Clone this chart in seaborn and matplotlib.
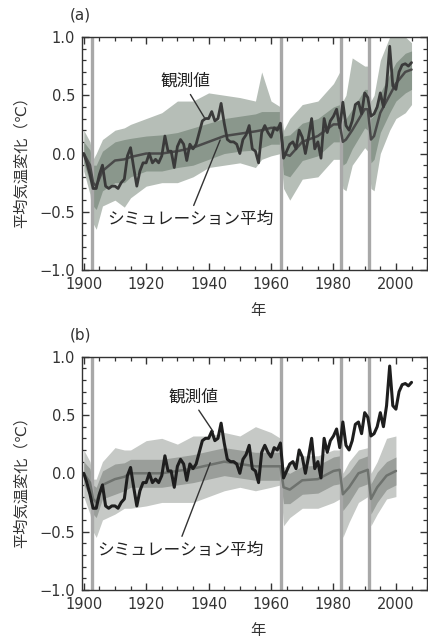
import numpy as np
import pandas as pd
import matplotlib
matplotlib.use("Agg")
import matplotlib.pyplot as plt
from matplotlib.ticker import MultipleLocator
import seaborn as sns

obs_years = list(range(1900, 2006))
obs_values = [
    0.00, -0.08, -0.18, -0.30, -0.30, -0.18, -0.10, -0.28, -0.30, -0.28,
    -0.28, -0.30, -0.25, -0.22, -0.02, 0.05, -0.12, -0.28, -0.15, -0.08,
    -0.08, 0.00, -0.08, -0.05, -0.08, -0.02, 0.15, 0.02, 0.02, -0.12,
    0.06, 0.12, 0.08, -0.06, 0.08, 0.04, 0.08, 0.18, 0.28, 0.30,
    0.30, 0.36, 0.28, 0.30, 0.43, 0.26, 0.12, 0.10, 0.10, 0.08,
    0.00, 0.12, 0.16, 0.24, 0.04, 0.02, -0.08, 0.18, 0.24, 0.18,
    0.14, 0.22, 0.20, 0.26, -0.04, 0.02, 0.08, 0.10, 0.04, 0.20,
    0.14, 0.00, 0.14, 0.30, 0.04, 0.10, -0.04, 0.30, 0.18, 0.28,
    0.32, 0.38, 0.22, 0.44, 0.24, 0.20, 0.28, 0.42, 0.44, 0.34,
    0.52, 0.48, 0.32, 0.34, 0.40, 0.52, 0.40, 0.58, 0.92, 0.58,
    0.55, 0.70, 0.76, 0.77, 0.75, 0.78,
]

# (a) natural + anthropogenic forcing runs: mean and spread
years_a = [1900, 1902, 1903, 1904, 1906, 1910, 1913, 1915, 1920, 1925, 1930, 1935,
           1940, 1945, 1950, 1955, 1957, 1960, 1963, 1964, 1966, 1970, 1975, 1980,
           1982, 1983, 1984, 1986, 1990, 1991, 1992, 1993, 1995, 1998, 2000, 2003, 2005]
mean_a = [0.0, -0.1, -0.25, -0.28, -0.15, -0.06, -0.05, -0.03, 0.0, 0.0, 0.02, 0.05,
          0.1, 0.15, 0.17, 0.19, 0.2, 0.22, 0.22, 0.0, -0.02, 0.1, 0.15, 0.25,
          0.25, 0.1, 0.12, 0.2, 0.38, 0.38, 0.12, 0.15, 0.35, 0.5, 0.6, 0.7, 0.72]
lo_a = [-0.15, -0.35, -0.6, -0.65, -0.45, -0.4, -0.46, -0.38, -0.28, -0.25, -0.25, -0.2,
        -0.12, -0.1, -0.08, -0.12, -0.05, -0.02, 0.0, -0.3, -0.4, -0.22, -0.2, -0.05,
        -0.05, -0.3, -0.32, -0.1, 0.05, 0.02, -0.3, -0.32, 0.0, 0.2, 0.3, 0.35, 0.42]
hi_a = [0.2, 0.1, -0.05, 0.0, 0.12, 0.2, 0.22, 0.25, 0.3, 0.35, 0.45, 0.45,
        0.52, 0.5, 0.48, 0.45, 0.7, 0.45, 0.4, 0.2, 0.3, 0.42, 0.45, 0.6,
        0.7, 0.45, 0.5, 0.82, 0.75, 0.75, 0.45, 0.5, 0.8, 1.0, 1.0, 1.0, 0.95]
core_lo_a = [-0.08, -0.25, -0.45, -0.48, -0.32, -0.25, -0.25, -0.2, -0.15, -0.15, -0.12, -0.1,
             -0.05, 0.0, 0.02, 0.03, 0.05, 0.08, 0.08, -0.18, -0.2, -0.06, -0.02, 0.1,
             0.1, -0.1, -0.08, 0.04, 0.22, 0.2, -0.08, -0.05, 0.18, 0.35, 0.45, 0.52, 0.55]
core_hi_a = [0.1, 0.03, -0.1, -0.1, 0.02, 0.1, 0.12, 0.13, 0.15, 0.16, 0.18, 0.22,
             0.26, 0.3, 0.32, 0.34, 0.36, 0.36, 0.36, 0.15, 0.16, 0.26, 0.3, 0.4,
             0.42, 0.28, 0.3, 0.38, 0.55, 0.55, 0.3, 0.33, 0.52, 0.68, 0.78, 0.86, 0.88]

# (b) natural forcing only runs
years_b = [1900, 1902, 1903, 1904, 1906, 1910, 1913, 1915, 1920, 1925, 1930, 1935,
           1940, 1945, 1950, 1955, 1960, 1963, 1964, 1966, 1970, 1975, 1980, 1982,
           1983, 1985, 1988, 1991, 1992, 1994, 1997, 2000]
mean_b = [0.0, -0.08, -0.22, -0.25, -0.1, -0.05, -0.03, 0.0, 0.0, 0.0, 0.02, 0.04,
          0.07, 0.1, 0.08, 0.06, 0.06, 0.06, -0.12, -0.14, -0.06, -0.05, 0.02, 0.03,
          -0.18, -0.12, 0.0, 0.03, -0.22, -0.12, -0.02, 0.02]
lo_b = [-0.2, -0.35, -0.5, -0.55, -0.4, -0.35, -0.3, -0.3, -0.28, -0.25, -0.25, -0.25,
        -0.2, -0.15, -0.12, -0.15, -0.12, -0.1, -0.45, -0.38, -0.3, -0.3, -0.25, -0.22,
        -0.55, -0.42, -0.25, -0.2, -0.45, -0.35, -0.22, -0.2]
hi_b = [0.2, 0.1, -0.05, -0.05, 0.1, 0.22, 0.2, 0.2, 0.28, 0.3, 0.25, 0.32,
        0.32, 0.35, 0.32, 0.4, 0.35, 0.3, 0.05, 0.08, 0.15, 0.15, 0.2, 0.2,
        0.0, 0.1, 0.2, 0.22, 0.0, 0.1, 0.3, 0.32]
core_lo_b = [-0.1, -0.2, -0.35, -0.38, -0.22, -0.18, -0.15, -0.12, -0.12, -0.12, -0.1, -0.08,
             -0.05, -0.02, -0.04, -0.06, -0.06, -0.06, -0.26, -0.26, -0.18, -0.17, -0.1, -0.09,
             -0.32, -0.25, -0.12, -0.09, -0.35, -0.25, -0.14, -0.1]
core_hi_b = [0.1, 0.04, -0.1, -0.12, 0.02, 0.08, 0.09, 0.12, 0.12, 0.12, 0.14, 0.16,
             0.19, 0.22, 0.2, 0.18, 0.18, 0.18, 0.02, 0.0, 0.06, 0.07, 0.14, 0.15,
             -0.04, 0.01, 0.12, 0.15, -0.09, 0.01, 0.1, 0.14]

# major volcanic eruptions
volcano_years = [1902.8, 1963.2, 1982.3, 1991.5]

x_ticks = [1900, 1920, 1940, 1960, 1980, 2000]
y_ticks = [-1.0, -0.5, 0.0, 0.5, 1.0]
y_tick_labels = ["\u22121.0", "\u22120.5", "0.0", "0.5", "1.0"]

sns.set_theme(style="ticks")
plt.rcParams["font.family"] = ["DejaVu Sans", "Noto Sans CJK JP"]

obs_df = pd.DataFrame({"year": obs_years, "temp": obs_values})

fig = plt.figure(figsize=(4.28, 6.37), dpi=100)
ax_a = fig.add_axes([0.192, 0.576, 0.806, 0.366])
ax_b = fig.add_axes([0.192, 0.074, 0.806, 0.366])

panels = [
    (ax_a, years_a, mean_a, lo_a, hi_a, core_lo_a, core_hi_a,
     "#b6beb7", "#8a978c", "#4a4a4a", "#3a3a3a", 2.0),
    (ax_b, years_b, mean_b, lo_b, hi_b, core_lo_b, core_hi_b,
     "#c6c9c6", "#9a9e9a", "#6e726e", "#1e1e1e", 2.2),
]

for ax, yrs, mean, lo, hi, clo, chi, c_out, c_core, c_mean, c_obs, obs_lw in panels:
    ax.fill_between(yrs, lo, hi, color=c_out, lw=0, zorder=1)
    ax.fill_between(yrs, clo, chi, color=c_core, lw=0, zorder=2)
    for v in volcano_years:
        ax.axvline(v, color="#a8a8a8", lw=2.4, zorder=3)
    sim_df = pd.DataFrame({"year": yrs, "temp": mean})
    sns.lineplot(data=sim_df, x="year", y="temp", ax=ax, color=c_mean, lw=1.8, zorder=4)
    sns.lineplot(data=obs_df, x="year", y="temp", ax=ax, color=c_obs, lw=obs_lw, zorder=5)

    ax.set_xlim(1899.5, 2010)
    ax.set_ylim(-1.0, 1.0)
    ax.set_xticks(x_ticks)
    ax.set_yticks(y_ticks)
    ax.set_yticklabels(y_tick_labels)
    ax.xaxis.set_minor_locator(MultipleLocator(5))
    ax.yaxis.set_minor_locator(MultipleLocator(0.1))
    ax.tick_params(which="major", direction="in", top=True, right=True,
                   length=5, width=1, color="#333333", labelsize=10.5,
                   labelcolor="#333333", pad=5)
    ax.tick_params(which="minor", direction="in", top=True, right=True,
                   length=3, width=0.9, color="#333333")
    for s in ax.spines.values():
        s.set_color("#333333")
        s.set_linewidth(1.0)
        s.set_zorder(7)
    ax.set_xlabel("年", fontsize=11, color="#333333")
    ax.xaxis.set_label_coords(0.51, -0.14)
    ax.set_ylabel("平均気温変化（℃）", fontsize=11, color="#333333")
    ax.yaxis.set_label_coords(-0.155, 0.48)

# annotations
arrow = dict(arrowstyle="-", color="#333333", lw=1.0, shrinkA=1, shrinkB=0)
ax_a.annotate("観測値", xy=(1938.6, 0.31), xytext=(1932.5, 0.622),
              ha="center", va="center", fontsize=12, color="#222222",
              arrowprops=dict(arrow, relpos=(0.55, 0.0)), zorder=6)
ax_a.annotate("シミュレーション平均", xy=(1943.7, 0.116), xytext=(1934.1, -0.562),
              ha="center", va="center", fontsize=12, color="#222222",
              arrowprops=dict(arrow, relpos=(0.51, 1.0)), zorder=6)
ax_b.annotate("観測値", xy=(1941.5, 0.356), xytext=(1935.1, 0.657),
              ha="center", va="center", fontsize=12, color="#222222",
              arrowprops=dict(arrow, relpos=(0.55, 0.0)), zorder=6)
ax_b.annotate("シミュレーション平均", xy=(1940.5, 0.09), xytext=(1930.9, -0.657),
              ha="center", va="center", fontsize=12, color="#222222",
              arrowprops=dict(arrow, relpos=(0.5, 1.0)), zorder=6)

fig.text(0.187, 0.976, "(a)", ha="center", va="center", fontsize=11, color="#333333")
fig.text(0.187, 0.474, "(b)", ha="center", va="center", fontsize=11, color="#333333")

fig.savefig("out.png", dpi=100)
